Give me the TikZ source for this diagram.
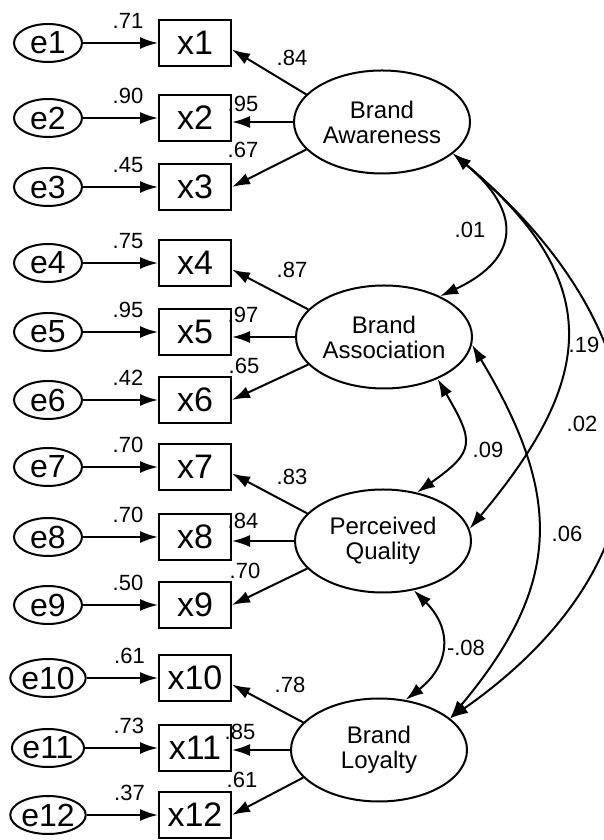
\documentclass[tikz,border=0pt]{standalone}
\usepackage{fontspec}
\setmainfont{Liberation Sans}
\usetikzlibrary{arrows.meta,shapes.geometric,positioning}

\tikzset{
  err/.style={draw,ellipse,line width=2pt,minimum width=68pt,minimum height=38pt,inner sep=0pt,font=\fontsize{32}{32}\selectfont},
  obs/.style={draw,rectangle,line width=2pt,minimum width=72pt,minimum height=46pt,inner sep=0pt,font=\fontsize{34}{34}\selectfont},
  latent/.style={draw,ellipse,line width=2pt,minimum width=176pt,minimum height=103pt,inner sep=0pt,align=center,font=\fontsize{24}{25}\selectfont},
  coef/.style={inner sep=1pt,font=\fontsize{22}{22}\selectfont},
  reg/.style={line width=2pt,-{Latex[length=18pt,width=12pt]}},
  cov/.style={line width=2pt,{Latex[length=18pt,width=12pt]}-{Latex[length=18pt,width=12pt]}},
}

\begin{document}
\begin{tikzpicture}[x=10pt,y=10pt]
  \useasboundingbox (0,0) rectangle (60.3,84);

  % indicators and their error terms
  \foreach \i/\yy/\w in {1/79.7/.71,2/72.2/.90,3/65.3/.45,4/57.7/.75,5/50.8/.95,6/44.0/.42,7/37.3/.70,8/30.3/.70,9/23.5/.50,10/16.2/.61,11/9.2/.73,12/2.5/.37}{
    \node[err] (e\i) at (4.8,\yy) {e\i};
    \node[obs] (x\i) at (19.5,\yy) {x\i};
    \draw[reg] (e\i) -- (x\i) node[coef,pos=.6,above=12pt] (w\i) {\w};
  }

  % latent constructs
  \node[latent] (BA)  at (38.2,71.8) {Brand\\Awareness};
  \node[latent] (BAs) at (38.4,50.3) {Brand\\Association};
  \node[latent] (PQ)  at (38.3,29.9) {Perceived\\Quality};
  \node[latent] (BL)  at (37.9,9.0)  {Brand\\Loyalty};

  % loadings
  \foreach \L/\a/\b/\c in {BA/1/2/3,BAs/4/5/6,PQ/7/8/9,BL/10/11/12}{
    \draw[reg] (\L.160) -- (x\a.-10);
    \draw[reg] (\L.west) -- (\L.west -| x\b.east);
    \draw[reg] (\L.-160) -- (x\c.east);
  }
  \foreach \t/\xx/\yy [count=\k] in {.84/29.2/78.2,.95/24.3/73.6,.67/24.3/69.0,.87/29.2/57.0,.97/24.3/52.5,.65/24.4/47.4,.83/29.2/36.3,.84/24.3/31.9,.70/24.5/26.9,.78/29.0/15.5,.85/24.0/10.8,.61/24.2/6.0}
    \node[coef] (l\k) at (\xx,\yy) {\t};

  % correlations
  \draw[cov] (BA.-24) to[out=-40,in=25,looseness=1.6] (BAs.36);
  \draw[cov] (BA.-24) to[out=-40,in=50,looseness=1.35] (PQ.8);
  \draw[cov] (BA.-24) to[out=-40,in=35,looseness=1.3] (BL.24);
  \draw[cov] (BAs.-5) to[out=-59,in=50,looseness=1.2] (BL.24);
  \draw[cov] (BAs.-38) to[out=-60,in=35,looseness=1.6] (PQ.55);
  \draw[cov] (PQ.-58) to[out=-45,in=38,looseness=1.3] (BL.62);
  \node[coef] (r1) at (47.0,61.0) {.01};
  \node[coef] (r2) at (58.4,49.5) {.19};
  \node[coef] (r3) at (58.2,41.6) {.02};
  \node[coef] (r4) at (48.8,39.0) {.09};
  \node[coef] (r5) at (56.7,30.6) {.06};
  \node[coef] (r6) at (46.6,19.2) {-.08};
\end{tikzpicture}
\end{document}
